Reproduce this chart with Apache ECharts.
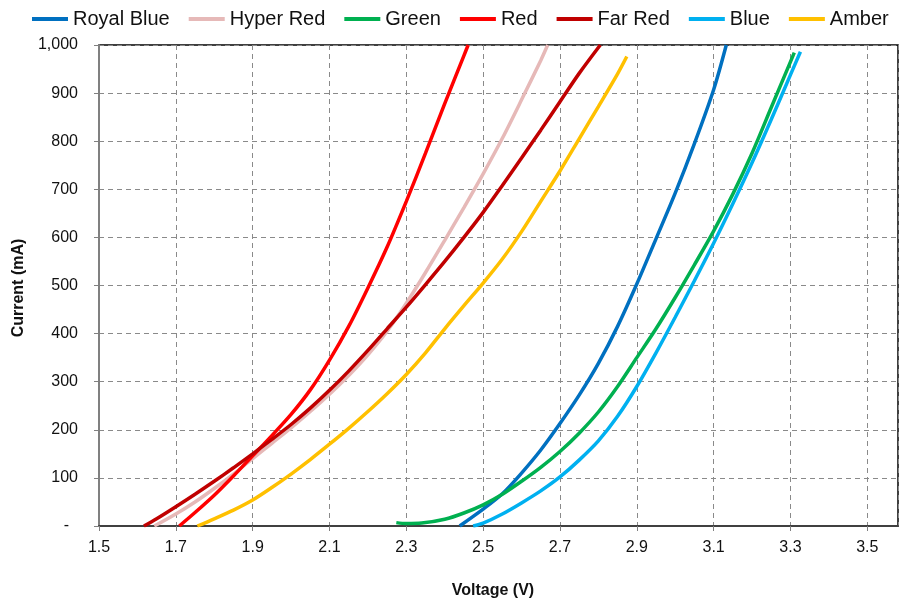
<!DOCTYPE html>
<html>
<head>
<meta charset="utf-8">
<script src="https://cdn.jsdelivr.net/npm/echarts@6/dist/echarts.min.js"></script>
<style>
html,body{margin:0;padding:0;background:#fff;}
#chart{width:904px;height:604px;}
</style>
</head>
<body>
<div id="chart"></div>
<script>
// ---- Data (Voltage V, Current mA) ----
var seriesNames = ['Royal Blue', 'Hyper Red', 'Green', 'Red', 'Far Red', 'Blue', 'Amber'];
var seriesColors = ['#0070C0', '#E6B9B8', '#00B050', '#FF0000', '#C00000', '#00B0F0', '#FFC000'];

var royalBlue = [[2.439,0],[2.50,35],[2.55,67],[2.60,110],[2.65,158],[2.70,213],[2.75,272],[2.80,338],[2.85,415],[2.90,503],[2.95,597],[3.00,692],[3.05,795],[3.10,907],[3.133,1000]];
var hyperRed = [[1.644,0],[1.70,25],[1.75,50],[1.80,78],[1.85,108],[1.90,140],[1.95,172],[2.00,204],[2.05,238],[2.10,274],[2.15,313],[2.20,356],[2.25,405],[2.30,463],[2.35,527],[2.40,594],[2.45,662],[2.50,732],[2.55,806],[2.60,886],[2.65,968],[2.668,1000]];
var green = [[2.274,7],[2.30,5],[2.34,6],[2.40,14],[2.45,27],[2.50,44],[2.55,66],[2.60,93],[2.65,122],[2.70,155],[2.75,193],[2.80,237],[2.85,290],[2.90,350],[2.95,410],[3.00,475],[3.05,543],[3.10,613],[3.15,690],[3.20,775],[3.25,870],[3.30,965],[3.31,984]];
var red = [[1.709,0],[1.75,28],[1.80,64],[1.85,104],[1.90,146],[1.95,188],[2.00,232],[2.05,283],[2.10,345],[2.15,415],[2.20,495],[2.25,580],[2.30,675],[2.35,775],[2.40,878],[2.45,978],[2.461,1000]];
var farRed = [[1.617,0],[1.65,15],[1.70,40],[1.75,66],[1.80,93],[1.85,121],[1.90,150],[1.95,180],[2.00,211],[2.05,245],[2.10,282],[2.15,322],[2.20,365],[2.25,410],[2.30,455],[2.35,502],[2.40,550],[2.45,600],[2.50,652],[2.55,708],[2.60,765],[2.65,823],[2.70,882],[2.75,941],[2.805,1000]];
var blue = [[2.474,0],[2.50,6],[2.55,25],[2.60,48],[2.65,73],[2.70,102],[2.75,137],[2.80,177],[2.85,228],[2.90,290],[2.95,360],[3.00,434],[3.05,510],[3.10,588],[3.15,670],[3.20,755],[3.25,845],[3.30,938],[3.326,986]];
var amber = [[1.756,0],[1.80,15],[1.85,33],[1.90,54],[1.95,80],[2.00,108],[2.05,138],[2.10,170],[2.15,203],[2.20,238],[2.25,275],[2.30,315],[2.35,360],[2.40,410],[2.45,458],[2.50,505],[2.55,555],[2.60,612],[2.65,675],[2.70,738],[2.75,805],[2.80,872],[2.85,940],[2.874,976]];

var seriesData = [royalBlue, hyperRed, green, red, farRed, blue, amber];

var xMin = 1.5, xMax = 3.58, xStep = 0.2;
var yMin = 0, yMax = 1000, yStep = 100;

var labelFont = 'Liberation Sans, Arial, sans-serif';

var chart = echarts.init(document.getElementById('chart'), null, {renderer: 'canvas'});

var series = seriesNames.map(function (name, i) {
  return {
    name: name,
    type: 'line',
    xAxisIndex: 0,
    yAxisIndex: 0,
    data: seriesData[i],
    smooth: 0.3,
    symbol: 'none',
    showSymbol: false,
    lineStyle: {color: seriesColors[i], width: 3.5},
    itemStyle: {color: seriesColors[i]},
    z: 3
  };
});

var gridLine = {show: true, lineStyle: {color: '#8a8a8a', width: 1, type: [5, 4]}};

var option = {
  animation: false,
  backgroundColor: '#fff',
  legend: {
    data: seriesNames,
    left: 27,
    top: 4,
    icon: 'rect',
    itemWidth: 36,
    itemHeight: 4,
    itemGap: 19,
    textStyle: {fontFamily: labelFont, fontSize: 20, color: '#111'}
  },
  grid: {
    left: 99, right: 6, top: 45, bottom: 78,
    show: true, borderColor: '#000', borderWidth: 1.5, backgroundColor: 'transparent'
  },
  xAxis: [
    {
      type: 'value', min: xMin, max: xMax,
      show: true,
      axisLine: {show: false}, axisTick: {show: false}, axisLabel: {show: false}, splitLine: {show: false}
    },
    {
      type: 'value', min: 0, max: +(xMax - xMin).toFixed(3), interval: xStep,
      position: 'bottom',
      axisLine: {show: true, onZero: false, lineStyle: {color: '#404040', width: 2}},
      axisTick: {show: true, length: 5, lineStyle: {color: '#808080', width: 1}},
      axisLabel: {
        margin: 14,
        fontFamily: labelFont, fontSize: 16, color: '#111',
        showMaxLabel: false,
        formatter: function (v) {
          var k = v / xStep;
          if (Math.abs(k - Math.round(k)) > 1e-6) return '';
          return (xMin + v).toFixed(1);
        }
      },
      splitLine: gridLine
    }
  ],
  yAxis: {
    type: 'value', min: yMin, max: yMax, interval: yStep,
    axisLine: {show: true, lineStyle: {color: '#808080', width: 2}},
    axisTick: {show: true, length: 5, lineStyle: {color: '#808080', width: 1}},
    axisLabel: {
      margin: 21,
      fontFamily: labelFont, fontSize: 16, color: '#111',
      formatter: function (v) {
        if (v === 0) return '-  ';
        return v.toLocaleString('en-US');
      }
    },
    splitLine: gridLine
  },
  graphic: [
    {
      type: 'text',
      x: 493, y: 591,
      style: {text: 'Voltage (V)', font: 'bold 16px ' + labelFont, fill: '#111', align: 'center', verticalAlign: 'middle'}
    },
    {
      type: 'text',
      x: 19, y: 288,
      rotation: Math.PI / 2,
      style: {text: 'Current (mA)', font: 'bold 16px ' + labelFont, fill: '#111', align: 'center', verticalAlign: 'middle'}
    }
  ],
  series: series
};

chart.setOption(option);
</script>
</body>
</html>
